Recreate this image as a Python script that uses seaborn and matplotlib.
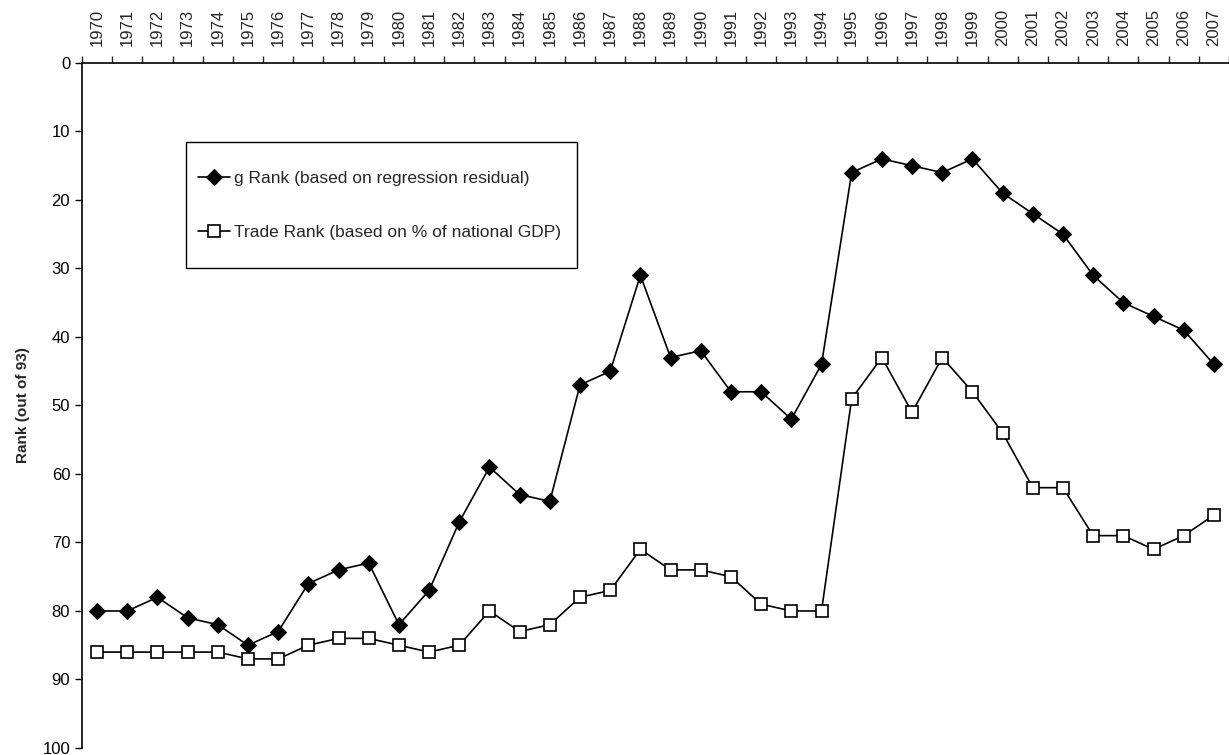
import numpy as np
import pandas as pd
import seaborn as sns
import matplotlib.pyplot as plt
from matplotlib.patches import Rectangle

# years on the category axis
years = list(range(1970, 2008))

# g Rank (based on regression residual)
g_rank = [80, 80, 78, 81, 82, 85, 83, 76, 74, 73,
          82, 77, 67, 59, 63, 64, 47, 45, 31, 43,
          42, 48, 48, 52, 44, 16, 14, 15, 16, 14,
          19, 22, 25, 31, 35, 37, 39, 44]

# Trade Rank (based on % of national GDP)
trade_rank = [86, 86, 86, 86, 86, 87, 87, 85, 84, 84,
              85, 86, 85, 80, 83, 82, 78, 77, 71, 74,
              74, 75, 79, 80, 80, 49, 43, 51, 43, 48,
              54, 62, 62, 69, 69, 71, 69, 66]

sns.set_style('white')
plt.rcParams['font.family'] = ['Liberation Sans', 'DejaVu Sans']

pos = np.arange(len(years))

fig = plt.figure(figsize=(12.29, 7.55), dpi=100)
ax = fig.add_axes([0.0667, 0.0093, 0.9333, 0.9073])

sns.lineplot(x=pos, y=g_rank, ax=ax, color='black', lw=1.2,
             marker='D', markersize=8, markerfacecolor='black',
             markeredgecolor='black', label='g Rank (based on regression residual)')
sns.lineplot(x=pos, y=trade_rank, ax=ax, color='black', lw=1.2,
             marker='s', markersize=8, markerfacecolor='white',
             markeredgecolor='black', markeredgewidth=1.2,
             label='Trade Rank (based on % of national GDP)')

ax.set_xlim(-0.5, len(years) - 0.5)
ax.set_ylim(100, 0)
ax.set_yticks(range(0, 101, 10))
ax.tick_params(axis='y', labelsize=12, length=5, width=1, direction='out', left=True, colors='black')

# category axis on top: labels in the middle, tick marks on the boundaries
ax.xaxis.tick_top()
ax.set_xticks(pos)
ax.set_xticklabels([str(y) for y in years], rotation=90)
ax.set_xticks(np.arange(-0.5, len(years), 1), minor=True)
ax.tick_params(axis='x', which='major', length=0, pad=12, labelsize=12, top=True)
ax.tick_params(axis='x', which='minor', length=5, width=1, direction='out', top=True, bottom=False)

for s in ['right', 'bottom']:
    ax.spines[s].set_visible(False)
for s in ['top', 'left']:
    ax.spines[s].set_color('black')
    ax.spines[s].set_linewidth(1.2)

ax.set_xlabel('')
ax.set_ylabel('Rank (out of 93)', fontsize=11, fontweight='bold', labelpad=9)

# legend box drawn separately (Excel style padding)
ax.add_patch(Rectangle((0.0907, 0.7007), 0.3409, 0.184, transform=ax.transAxes,
                       facecolor='white', edgecolor='black', lw=1.0, zorder=4))
leg = ax.legend(loc='center left', bbox_to_anchor=(0.1011, 0.792), fontsize=12.5,
                frameon=False, labelspacing=2.2, borderpad=0,
                handlelength=1.85, handletextpad=0.25, borderaxespad=0)
leg.set_zorder(5)

fig.savefig('out.png', dpi=100)
